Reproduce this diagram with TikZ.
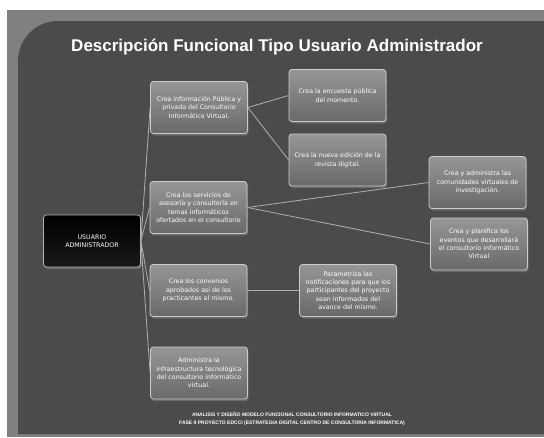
\documentclass[tikz,border=0pt]{standalone}
\usepackage{fontspec}
\setmainfont{Liberation Sans}
\newfontfamily\cajafont{DejaVu Sans}
\usetikzlibrary{positioning,shadows}
\definecolor{marco}{RGB}{128,128,128}
\definecolor{panel}{RGB}{75,75,75}
\definecolor{cajaalta}{RGB}{150,150,150}
\definecolor{cajabaja}{RGB}{105,105,105}
\definecolor{linea}{RGB}{175,175,175}

\begin{document}
\begin{tikzpicture}[x=1pt, y=-1pt,
    caja/.style={draw=gray!40, line width=0.8pt, rounded corners=3pt, top color=cajaalta, bottom color=cajabaja,
      text=white, minimum width=97pt, minimum height=52pt, inner sep=1pt, align=center,
      font=\cajafont\fontsize{6.3}{8.3}\selectfont, drop shadow={opacity=0.6, shadow xshift=1pt, shadow yshift=-2pt}},
    raiz/.style={caja, top color=black, bottom color=black!90, draw=gray!60},
    rama/.style={draw=linea, line width=0.8pt}]
  \useasboundingbox (0,0) rectangle (544,437);
  \fill[white] (0,0) rectangle (544,437);
  \fill[marco] (7,10) rectangle (544,437);
  \fill[panel] (18,434) [rounded corners=40pt] -- (18,21) [sharp corners] -- (544,21) -- (544,434) -- cycle;

  \node[text=white, font=\bfseries\fontsize{17}{20}\selectfont] (titulo) at (277,47) {Descripción Funcional Tipo Usuario Administrador};

  \node[raiz] (usuario) at (92,241) {USUARIO\\ADMINISTRADOR};

  \node[caja] (publica) at (199,107.5) {Crea información Pública y\\privada del Consultorio\\Informático Virtual.};
  \node[caja] (servicios) at (198.5,207.5) {Crea los servicios de\\asesoría y consultoría en\\temas informáticos\\ofertados en el consultorio};
  \node[caja] (convenios) at (198.5,290.5) {Crea los convenios\\aprobados así de los\\practicantes al mismo.};
  \node[caja] (infra) at (199,373) {Administra la\\infraestructura tecnológica\\del consultorio informático\\virtual.};

  \node[caja] (encuesta) at (337.5,95.5) {Crea la encuesta pública\\del momento.};
  \node[caja] (revista) at (337.5,160) {Crea la nueva edición de la\\revista digital.};
  \node[caja] (comunidades) at (477.5,182.5) {Crea y administra las\\comunidades virtuales de\\investigación.};
  \node[caja] (eventos) at (479,244) {Crea y planifica los\\eventos que desarrollará\\el consultorio informático\\Virtual};
  \node[caja] (notifica) at (348,290.5) {Parametriza las\\notificaciones para que los\\participantes del proyecto\\sean informados del\\avance del mismo.};

  \draw[rama] (usuario.east) -- (publica.west);
  \draw[rama] (usuario.east) -- (servicios.west);
  \draw[rama] (usuario.east) -- (convenios.west);
  \draw[rama] (usuario.east) -- (infra.west);
  \draw[rama] (publica.east) -- (encuesta.west);
  \draw[rama] (publica.east) -- (revista.west);
  \draw[rama] (servicios.east) -- (comunidades.west);
  \draw[rama] (servicios.east) -- (eventos.west);
  \draw[rama] (convenios.east) -- (notifica.west);

  \node[text=white, font=\bfseries\fontsize{5}{8}\selectfont, align=center] (pie) at (292,419)
    {ANALISIS Y DISEÑO MODELO FUNCIONAL CONSULTORIO INFORMATICO VIRTUAL\\FASE II PROYECTO EDCCI (ESTRATEGIA DIGITAL CENTRO DE CONSULTORIA INFORMATICA)};
\end{tikzpicture}
\end{document}
